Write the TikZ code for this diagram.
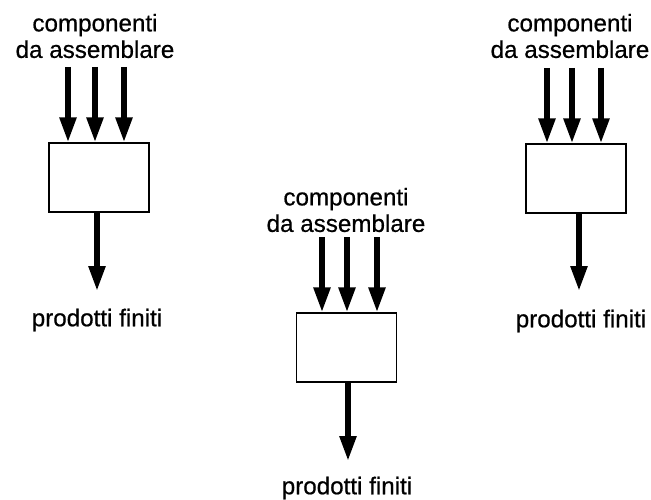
\documentclass[tikz,border=0pt]{standalone}
\usepackage{fontspec}
\setmainfont[FakeBold=0.6]{Liberation Sans}
\usetikzlibrary{arrows.meta}
\tikzset{
  lbl/.style={inner sep=0pt, align=center, font=\fontsize{24.2}{26.5}\selectfont},
  unit/.style={draw=black, line width=1.4pt, minimum width=100pt, minimum height=69pt, inner sep=0pt},
  feed/.style={line width=5.5pt, -{Triangle[width=16pt,length=25pt]}}
}
\begin{document}
\begin{tikzpicture}[x=1pt,y=-1pt]
\useasboundingbox (0,0) rectangle (651,500);

% left station
\node[lbl] (inL) at (95,36) {componenti\\da assemblare};
\node[unit] (boxL) at (99,177.5) {};
\node[lbl] (outL) at (97,320) {prodotti finiti};
\coordinate (aL1) at (68,67);
\coordinate (aL2) at (95,67);
\coordinate (aL3) at (124,67);
\coordinate (eL) at (97,291);
\draw[feed] (aL1) -- (aL1 |- boxL.north);
\draw[feed] (aL2) -- (aL2 |- boxL.north);
\draw[feed] (aL3) -- (aL3 |- boxL.north);
\draw[feed] (eL |- boxL.south) -- (eL);

% middle station
\node[lbl] (inM) at (346,210) {componenti\\da assemblare};
\node[unit] (boxM) at (346.5,347.5) {};
\node[lbl] (outM) at (347,488) {prodotti finiti};
\coordinate (aM1) at (322,237);
\coordinate (aM2) at (347,237);
\coordinate (aM3) at (377,237);
\coordinate (eM) at (348,461);
\draw[feed] (aM1) -- (aM1 |- boxM.north);
\draw[feed] (aM2) -- (aM2 |- boxM.north);
\draw[feed] (aM3) -- (aM3 |- boxM.north);
\draw[feed] (eM |- boxM.south) -- (eM);

% right station
\node[lbl] (inR) at (570,36) {componenti\\da assemblare};
\node[unit] (boxR) at (576,178.5) {};
\node[lbl] (outR) at (581,321) {prodotti finiti};
\coordinate (aR1) at (547,68);
\coordinate (aR2) at (572,68);
\coordinate (aR3) at (601,68);
\coordinate (eR) at (579,291);
\draw[feed] (aR1) -- (aR1 |- boxR.north);
\draw[feed] (aR2) -- (aR2 |- boxR.north);
\draw[feed] (aR3) -- (aR3 |- boxR.north);
\draw[feed] (eR |- boxR.south) -- (eR);
\end{tikzpicture}
\end{document}
